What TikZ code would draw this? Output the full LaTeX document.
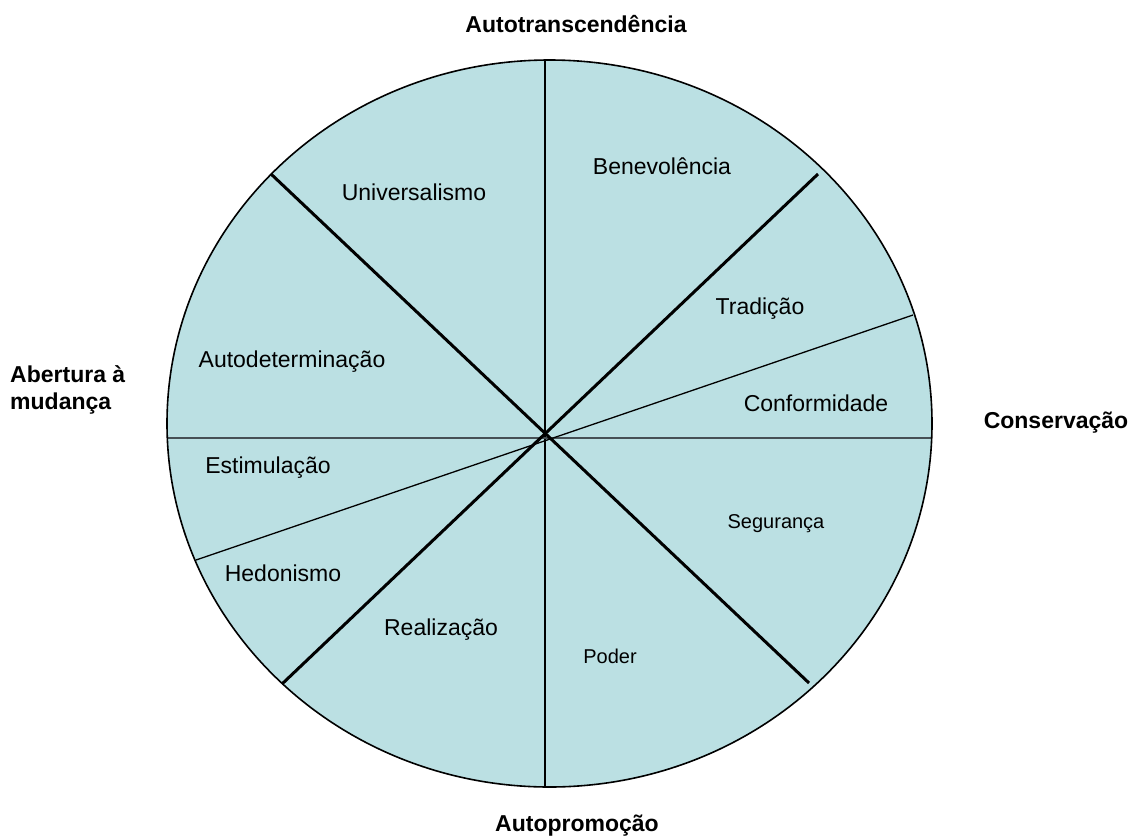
\documentclass[tikz,border=0pt]{standalone}
\usepackage{fontspec}
\setmainfont{Liberation Sans}
\definecolor{wheelfill}{RGB}{187,224,227}
\definecolor{hline}{RGB}{70,80,85}
\begin{document}
\begin{tikzpicture}[x=1pt,y=-1pt,
  lbl/.style={font=\fontsize{23}{27}\selectfont, inner sep=0pt},
  small/.style={font=\fontsize{20}{24}\selectfont, inner sep=0pt},
  title/.style={font=\fontsize{23}{27}\selectfont\bfseries, inner sep=0pt, align=left},
  thick line/.style={line width=3pt, black},
  thin line/.style={line width=1.3pt, black}]
\useasboundingbox (0,0) rectangle (1129,836);
\fill[wheelfill] (549.5,423.5) ellipse [x radius=382.5, y radius=363.5];
% dividing lines
\draw[thin line] (545,60.5) -- (545,786.5);
\draw[line width=1.5pt, hline] (167,438) -- (932,438);
\draw[thin line] (913,315) -- (196,560);
\draw[thick line] (271,174) -- (809,683);
\draw[thick line] (818,174) -- (282,684);
\draw[line width=1.6pt] (549.5,423.5) ellipse [x radius=382.5, y radius=363.5];
% segment labels
\node[lbl] (univ) at (414,192) {Universalismo};
\node[lbl] (bene) at (662,166) {Benevolência};
\node[lbl] (trad) at (760,309) {Tradição};
\node[lbl] (conf) at (816,403) {Conformidade};
\node[lbl] (autod) at (292,362) {Autodeterminação};
\node[lbl] (estim) at (268,468) {Estimulação};
\node[lbl] (hedo) at (283,573) {Hedonismo};
\node[lbl] (real) at (441,630) {Realização};
\node[small] (poder) at (610,656) {Poder};
\node[small] (seg) at (776,524) {Segurança};
% axis titles
\node[title] (top) at (576,24) {Autotranscendência};
\node[title, anchor=west] (left) at (10,390) {Abertura à\\mudança};
\node[title] (right) at (1056,423) {Conservação};
\node[title] (bottom) at (577,826) {Autopromoção};
\end{tikzpicture}
\end{document}
